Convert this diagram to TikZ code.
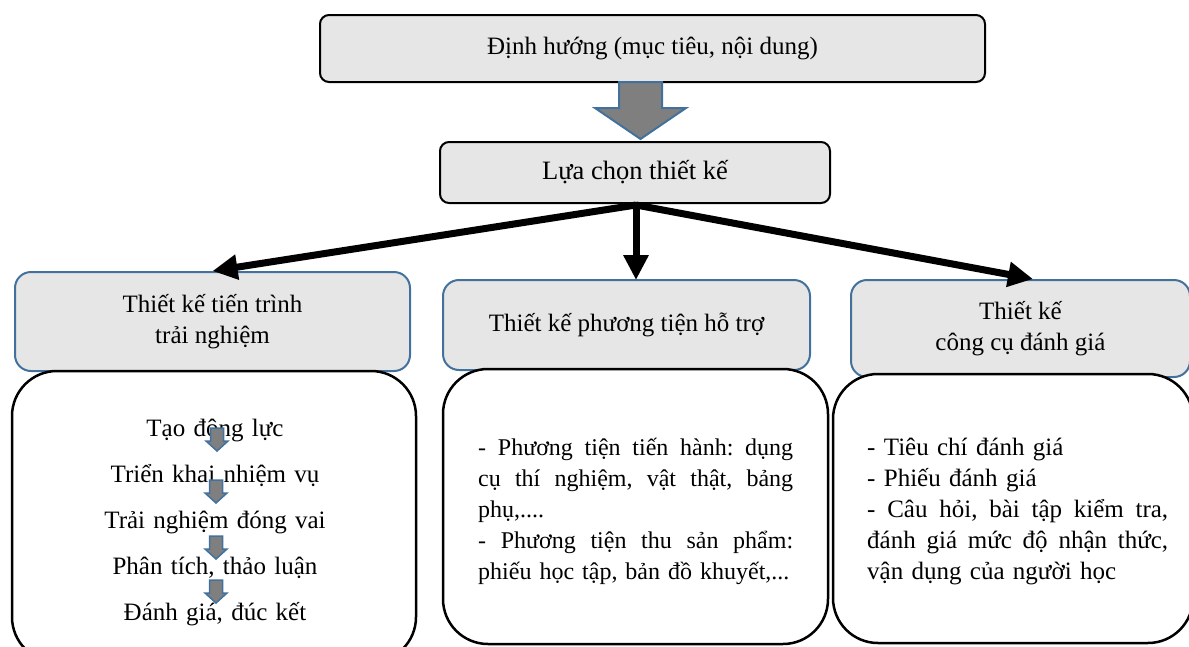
\documentclass[tikz,border=0pt]{standalone}
\usepackage{fontspec}
\setmainfont{Liberation Serif}
\usetikzlibrary{arrows.meta}
\definecolor{boxgray}{HTML}{E7E6E6}
\definecolor{bord}{HTML}{41719C}
\definecolor{arrgray}{HTML}{7F7F7F}
\newcommand\jsp{\hspace{0.25em plus 1fil}}
\newcommand\jline[2]{\hbox to #1{#2}}
\begin{document}
\begin{tikzpicture}[x=1pt,y=-1pt,
  txt/.style={font=\fontsize{25}{31}\selectfont},
  topbox/.style={draw=black, line width=2pt, fill=boxgray, rounded corners=9pt, inner sep=0pt, txt},
  graybox/.style={draw=bord, line width=2pt, fill=boxgray, rounded corners=16pt, inner sep=0pt, txt, align=center},
  whitebox/.style={draw=black, line width=2.5pt, fill=white, rounded corners=45pt, inner sep=0pt},
  bigarr/.style={line width=7pt, -{Triangle[length=25pt,width=24pt]}},
  blockarr/.style={draw=bord, line width=2pt, fill=arrgray},
  smallarr/.style={draw=bord, line width=1.5pt, fill=arrgray},
  darr/.pic={\draw[smallarr] (-6.5,0) -- (6.5,0) -- (6.5,13) -- (11,13) -- (0,23) -- (-11,13) -- (-6.5,13) -- cycle;}]
\useasboundingbox (0,0) rectangle (1189,646);
\clip (0,0) rectangle (1189,646);

% top boxes
\node[topbox, minimum width=665pt, minimum height=67pt] (top) at (652.5,48.5) {Định hướng (mục tiêu, nội dung)};
\draw[blockarr] (619,82) -- (662,82) -- (662,108) -- (686,108) -- (640.5,139) -- (595,108) -- (619,108) -- cycle;
\node[topbox, minimum width=390pt, minimum height=61pt, font=\fontsize{26.5}{31}\selectfont] (choice) at (635,172.5) {Lựa chọn thiết kế};

% gray boxes
\node[graybox, minimum width=395pt, minimum height=99pt] (g1) at (212.5,321.5) {Thiết kế tiến trình\\trải nghiệm};
\node[graybox, minimum width=367pt, minimum height=90pt] (g2) at (626.5,325) {Thiết kế phương tiện hỗ trợ};
\node[graybox, minimum width=339pt, minimum height=97pt] (g3) at (1020.5,328.5) {Thiết kế\\công cụ đánh giá};

% white boxes
\node[whitebox, minimum width=404pt, minimum height=291pt] (w1) at (214,516.5) {};
\node[whitebox, minimum width=385pt, minimum height=275pt] (w2) at (635.5,506.5) {};
\node[whitebox, minimum width=360pt, minimum height=269pt] (w3) at (1013,508.5) {};

% connectors
\coordinate (hub) at (636,205);
\coordinate (g2top) at (636,280);
\coordinate (g3top) at (1033,279);
\draw[bigarr] (hub) -- (g1.north);
\draw[bigarr] (hub) -- (g2top);
\draw[bigarr] (hub) -- (g3top);

% left contents
\node[anchor=base, text width=380pt, align=center, inner sep=0pt, font=\fontsize{25}{46}\selectfont] (steps) at (215,436)
  {Tạo động lực\\Triển khai nhiệm vụ\\Trải nghiệm đóng vai\\Phân tích, thảo luận\\Đánh giá, đúc kết};
\pic at (217,428) {darr};
\pic at (216,480) {darr};
\pic at (216,536) {darr};
\pic at (216,580) {darr};

% middle contents
\node[anchor=base west, text width=315pt, align=left, inner sep=0pt, font=\fontsize{24}{31}\selectfont] (mtxt) at (478,455)
  {\leavevmode\jline{315pt}{-\jsp Phương\jsp tiện\jsp tiến\jsp hành:\jsp dụng}\\
   \leavevmode\jline{315pt}{cụ\jsp thí\jsp nghiệm,\jsp vật\jsp thật,\jsp bảng}\\
   phụ,....\\
   \leavevmode\jline{315pt}{-\jsp Phương\jsp tiện\jsp thu\jsp sản\jsp phẩm:}\\
   phiếu học tập, bản đồ khuyết,...};

% right contents
\node[txt, anchor=base west, text width=301pt, align=left, inner sep=0pt] (rtxt) at (867,455)
  {- Tiêu chí đánh giá\\
   - Phiếu đánh giá\\
   \leavevmode\jline{301pt}{-\jsp Câu\jsp hỏi,\jsp bài\jsp tập\jsp kiểm\jsp tra,}\\
   \leavevmode\jline{301pt}{đánh\jsp giá\jsp mức\jsp độ\jsp nhận\jsp thức,}\\
   vận dụng của người học};
\end{tikzpicture}
\end{document}
